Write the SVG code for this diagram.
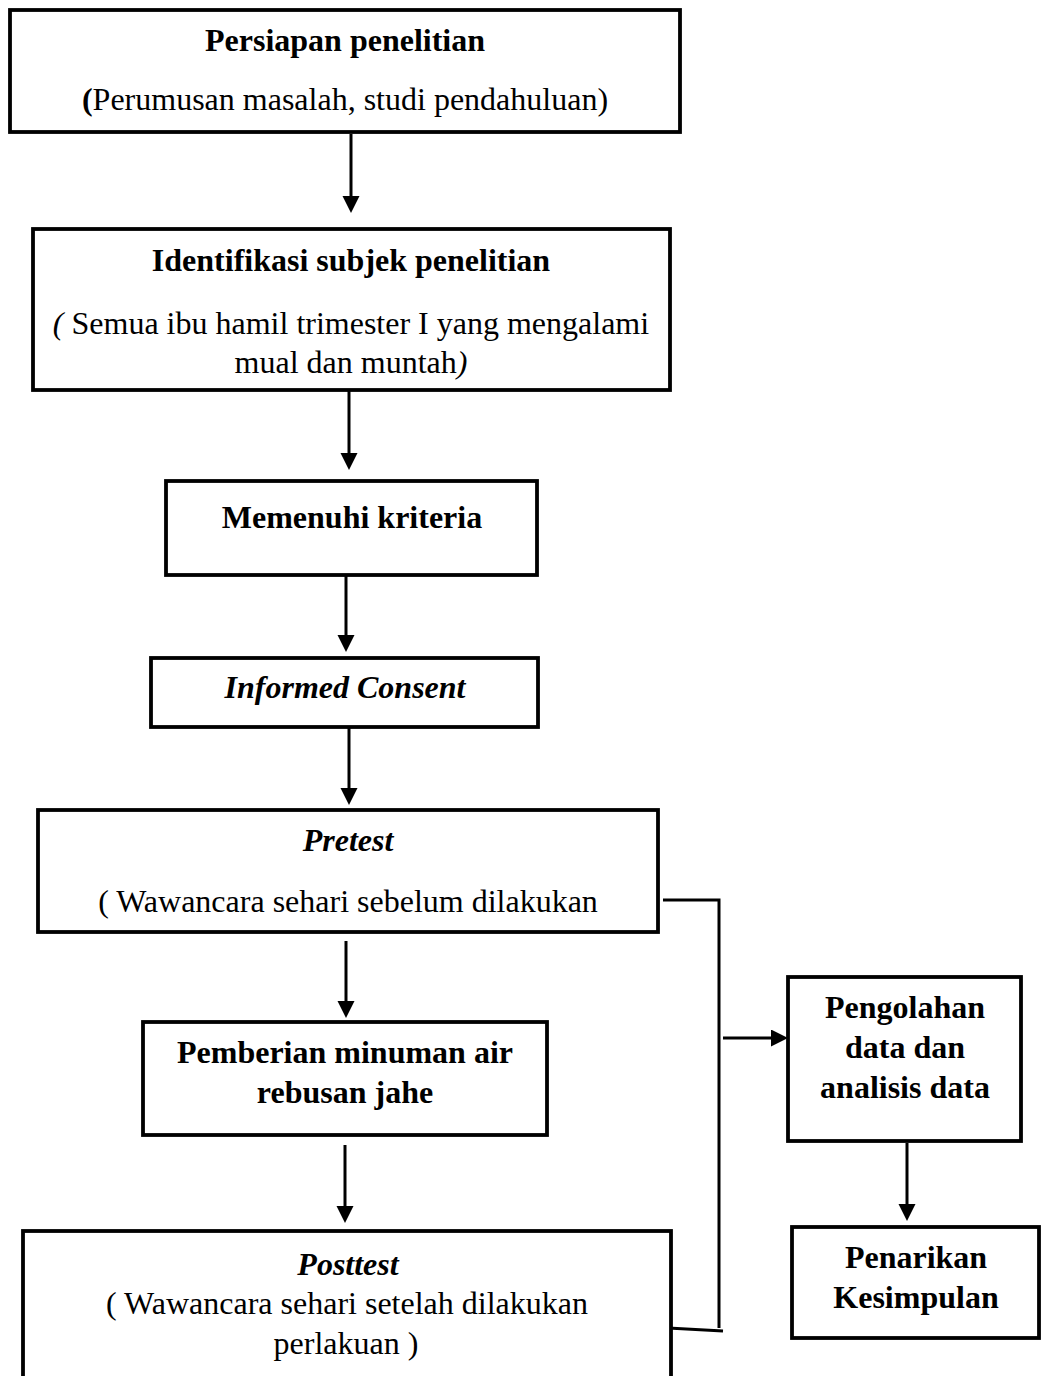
<svg xmlns="http://www.w3.org/2000/svg" width="1042" height="1376" viewBox="0 0 1042 1376">
<style>
.box{fill:#fff;stroke:#000;stroke-width:3.8}
.ln{fill:none;stroke:#000;stroke-width:3}
.ar{fill:none;stroke:#000;stroke-width:3;marker-end:url(#ah)}
text{font-family:"Liberation Serif","Times New Roman",serif;font-size:32px;fill:#000;text-anchor:middle}
.b{font-weight:bold}
.i{font-style:italic}
</style>
<defs>
<marker id="ah" markerUnits="userSpaceOnUse" markerWidth="18" markerHeight="18" refX="3" refY="8.5" orient="auto">
<path d="M0,0 L17,8.5 L0,17 z" fill="#000"/>
</marker>
</defs>
<rect width="1042" height="1376" fill="#fff"/>
<g id="connectors">
<line class="ar" x1="351" y1="134" x2="351" y2="199"/>
<line class="ar" x1="349" y1="390" x2="349" y2="456"/>
<line class="ar" x1="346" y1="575" x2="346" y2="638"/>
<line class="ar" x1="349" y1="727" x2="349" y2="791"/>
<line class="ar" x1="346" y1="941" x2="346" y2="1004"/>
<line class="ar" x1="345" y1="1145" x2="345" y2="1209"/>
<polyline class="ln" points="663,900 719,900 719,1328"/>
<line class="ln" x1="668" y1="1328" x2="723" y2="1331"/>
<line class="ar" x1="723" y1="1038" x2="774" y2="1038"/>
<line class="ar" x1="907" y1="1143" x2="907" y2="1207"/>
</g>
<g id="n1">
<rect class="box" x="10" y="10" width="670" height="122"/>
<text class="b" x="345" y="51">Persiapan penelitian</text>
<text x="345" y="110"><tspan class="b">(</tspan>Perumusan masalah, studi pendahuluan)</text>
</g>
<g id="n2">
<rect class="box" x="33" y="229" width="637" height="161"/>
<text class="b" x="351" y="271">Identifikasi subjek penelitian</text>
<text x="351" y="334"><tspan class="i">(</tspan> Semua ibu hamil trimester I yang mengalami</text>
<text x="351" y="373">mual dan muntah<tspan class="i">)</tspan></text>
</g>
<g id="n3">
<rect class="box" x="166" y="481" width="371" height="94"/>
<text class="b" x="352" y="528">Memenuhi kriteria</text>
</g>
<g id="n4">
<rect class="box" x="151" y="658" width="387" height="69"/>
<text class="b i" x="345" y="698">Informed Consent</text>
</g>
<g id="n5">
<rect class="box" x="38" y="810" width="620" height="122"/>
<text class="b i" x="348" y="851">Pretest</text>
<text x="348" y="912">( Wawancara sehari sebelum dilakukan</text>
</g>
<g id="n6">
<rect class="box" x="143" y="1022" width="404" height="113"/>
<text class="b" x="345" y="1063">Pemberian minuman air</text>
<text class="b" x="345" y="1103">rebusan jahe</text>
</g>
<g id="n7">
<rect class="box" x="23" y="1231" width="648" height="180"/>
<text class="b i" x="348" y="1275">Posttest</text>
<text x="347" y="1314">( Wawancara sehari setelah dilakukan</text>
<text x="346" y="1354">perlakuan )</text>
</g>
<g id="n8">
<rect class="box" x="788" y="977" width="233" height="164"/>
<text class="b" x="905" y="1018">Pengolahan</text>
<text class="b" x="905" y="1058">data dan</text>
<text class="b" x="905" y="1098">analisis data</text>
</g>
<g id="n9">
<rect class="box" x="792" y="1227" width="247" height="111"/>
<text class="b" x="916" y="1268">Penarikan</text>
<text class="b" x="916" y="1308">Kesimpulan</text>
</g>
</svg>
